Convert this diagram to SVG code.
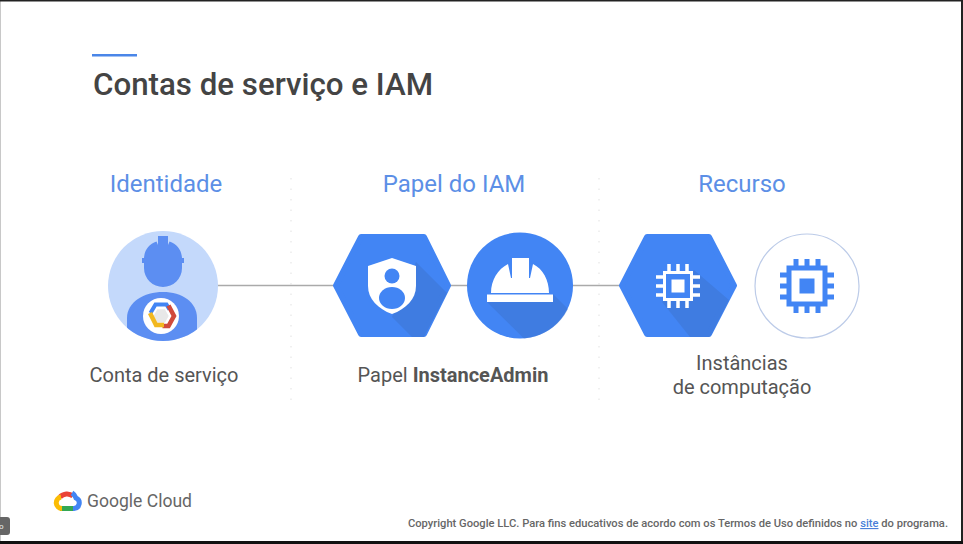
<svg xmlns="http://www.w3.org/2000/svg" width="963" height="544" viewBox="0 0 963 544">
<style>
text{font-family:Roboto,"Liberation Sans",sans-serif}
.h{font-size:24px;fill:#5c8fe6;text-anchor:middle}
.l{font-size:20px;fill:#555;text-anchor:middle}
.b{fill:#4285f4}
.hex{fill:#4285f4;stroke:#4285f4;stroke-width:6;stroke-linejoin:round}
.s{fill:#3a6dc0;opacity:.36}
.w{fill:#fff}
.div{stroke:#ececec;stroke-width:1.5;stroke-dasharray:1.5 9;fill:none}
.conn{stroke:#aaa;stroke-width:1.5;fill:none}
.c{fill:none;stroke-width:5}
</style>
<defs>
<clipPath id="disc"><circle cx="163" cy="286" r="55"/></clipPath>
</defs>
<rect width="963" height="544" fill="#fff"/>
<path d="M0.5 0V542" stroke="#c8c8c8" fill="none"/>
<rect x="0" y="0" width="963" height="1.5" fill="#222"/>
<rect x="961" y="0" width="2" height="544" fill="#222"/>
<rect x="0" y="541" width="963" height="3" fill="#111"/>
<rect x="92" y="54" width="45" height="2.500" fill="#4a86e8"/>
<text x="93" y="95" font-size="31" font-weight="500" fill="#444" textLength="340" lengthAdjust="spacingAndGlyphs">Contas de serviço e IAM</text>
<g id="dividers"><path class="div" d="M291 178V405M599 178V405"/></g>
<g id="connectors"><path class="conn" d="M217 285.500H334M450 285.500H468M572 285.500H620"/></g>
<g id="col1"><text class="h" x="166" y="192">Identidade</text><text class="l" x="164" y="382">Conta de serviço</text></g>
<g id="col2"><text class="h" x="454" y="192">Papel do IAM</text><text class="l" x="453" y="382">Papel <tspan font-weight="700">InstanceAdmin</tspan></text></g>
<g id="col3"><text class="h" x="742" y="192">Recurso</text><text class="l" x="742" y="370">Instâncias</text><text class="l" x="742" y="394">de computação</text></g>
<g id="service-account">
<circle cx="163" cy="286" r="55" fill="#c4d9fb"/>
<path d="M142 258h2c.5-8 5-14 12.500-16.500l1.500 3.500v-9h10v9l1.500-3.500c7.500 2.500 12 8.500 12.500 16.500h2v5h-2v5a19 19 0 0 1-38 0v-5h-2z" fill="#5c8ef2"/>
<path d="M127 345V318c0-16 17-26 36-26s34 10 34 26v27z" fill="#5c8ef2" clip-path="url(#disc)"/>
<circle cx="161" cy="316" r="18" fill="#fff"/>
<path d="M153.500 316l3.800-6.700h7.600l3.800 6.700-3.800 6.700h-7.600z" fill="#e8e8e8"/>
<path d="M150.500 313l5-8.500h11l3 5" fill="none" stroke="#4285f4" stroke-width="4"/>
<path d="M168.500 305.500l5.500 10.500-5.500 10h-6" fill="none" stroke="#d04a3c" stroke-width="4.500"/>
<path d="M150 313l6 12h8" fill="none" stroke="#f2b81f" stroke-width="4.500"/>
</g>
<g id="iam-role">
<polygon class="hex" points="336,285.500 361,237 424,237 448,285.500 424,334 361,334"/>
<path d="M416 262L447 293L424 337H412L392 317z" class="s"/>
<path d="M392 258l-24 8v20c0 13 10 23 24 28 14-5 24-15 24-28v-20z" class="w"/>
<circle cx="392" cy="276" r="7.500" class="b"/>
<ellipse cx="392" cy="298" rx="13" ry="11" class="b"/>
</g>
<g id="helmet-role">
<circle cx="520" cy="285.500" r="53" class="b"/>
<path d="M553 294L568 309A53 53 0 0 1 524 338.400L487 302H553z" class="s"/>
<path d="M491 293c0-13 7-24 17-29l3 14 1 0V258h17v20l1 0 3-14c10 5 16 16 16 29z" class="w"/>
<rect x="487" y="294.500" width="66" height="7.500" class="w"/>
</g>
<g id="compute-hex">
<polygon class="hex" points="622,285.500 647,237 709,237 734,285.500 709,334 647,334"/>
<path d="M694 270L729 300L710 337H690L662 302z" class="s"/>
<g transform="translate(678 286)">
<path d="M-9-22V-13M0-22V-13M9-22V-13M-9 13V22M0 13V22M9 13V22M-22-9H-13M-22 0H-13M-22 9H-13M13-9H22M13 0H22M13 9H22" stroke="#fff" stroke-width="3.500" fill="none"/>
<rect x="-13.500" y="-13.500" width="27" height="27" fill="#4285f4" stroke="#fff" stroke-width="3"/>
<rect x="-6.500" y="-6.500" width="13" height="13" fill="#fff"/>
</g>
</g>
<g id="compute-circle">
<circle cx="807" cy="286" r="52" fill="#fff" stroke="#bccbe8" stroke-width="1.200"/>
<g transform="translate(807 286)">
<path d="M-11-27V-17M0-27V-17M11-27V-17M-11 17V27M0 17V27M11 17V27M-27-11H-17M-27 0H-17M-27 11H-17M17-11H27M17 0H27M17 11H27" stroke="#4285f4" stroke-width="5" fill="none"/>
<rect x="-18" y="-18" width="36" height="36" fill="#fff" stroke="#4285f4" stroke-width="5"/>
<rect x="-7.500" y="-7.500" width="15" height="15" fill="#4285f4"/>
</g>
</g>
<g id="logo">
<path d="M73 496A9.500 9.500 0 0 0 60 497" class="c" stroke="#ea4335"/>
<path d="M72.500 508.500H74A5.500 5.500 0 0 0 76 498A9.500 9.500 0 0 0 72 493" class="c" stroke="#4285f4"/>
<path d="M60 508.500H73" class="c" stroke="#34a853"/>
<path d="M62 508.500A5.800 5.800 0 0 1 61 497" class="c" stroke="#fbbc05"/>
<text x="87" y="507" font-size="19" fill="#666" textLength="105" lengthAdjust="spacingAndGlyphs">Google Cloud</text>
</g>
<g id="badge"><path d="M0 517h7q3 0 3 3v12q0 3-3 3H0z" fill="#666"/><text x="-1" y="529" font-size="8" fill="#eee">o</text></g>
<text x="408" y="527" font-size="11.200" font-weight="500" fill="#666" textLength="540" lengthAdjust="spacingAndGlyphs">Copyright Google LLC. Para fins educativos de acordo com os Termos de Uso definidos no <tspan fill="#4a7fd8" text-decoration="underline">site</tspan> do programa.</text>
</svg>
